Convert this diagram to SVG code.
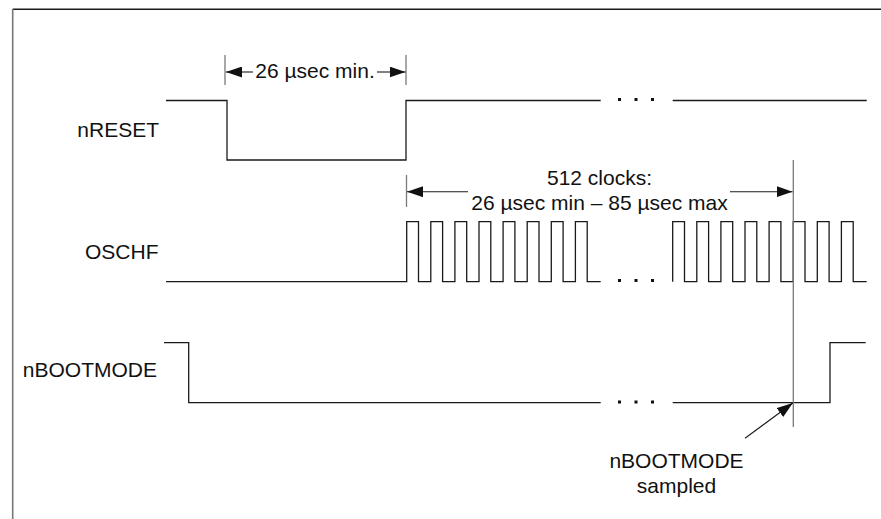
<svg xmlns="http://www.w3.org/2000/svg" width="881" height="519" viewBox="0 0 881 519">
<style>
text{font-family:"Liberation Sans",Arial,sans-serif;font-size:21px;fill:#111}
.w{fill:none;stroke:#1a1a1a;stroke-width:1.3}
.g{fill:none;stroke:#7a7a7a;stroke-width:1.3}
.a{fill:none;stroke:#1a1a1a;stroke-width:1.1}
.d{fill:#111}
</style>
<defs>
<marker id="ah" viewBox="0 0 16 11" refX="16" refY="5.5" markerWidth="16" markerHeight="11" markerUnits="userSpaceOnUse" orient="auto">
<path d="M0,0 L16,5.5 L0,11 z" fill="#111"/>
</marker>
</defs>
<rect width="881" height="519" fill="#fff"/>
<g id="frame">
<line x1="12.7" y1="9.3" x2="881" y2="9.3" stroke="#1a1a1a" stroke-width="1.6"/>
<line x1="12.7" y1="9" x2="12.7" y2="519" stroke="#777" stroke-width="1.6"/>
</g>
<g id="nRESET">
<text x="159" y="137" text-anchor="end">nRESET</text>
<path class="w" d="M166 100.5 H227 V160 H406 V100.5 H600.7"/>
<path class="w" d="M672.7 100.5 H866.7"/>
<rect class="d" x="618" y="98" width="3" height="3"/>
<rect class="d" x="634.5" y="98" width="3" height="3"/>
<rect class="d" x="651" y="98" width="3" height="3"/>
</g>
<g id="OSCHF">
<text x="158.5" y="258.5" text-anchor="end">OSCHF</text>
<path class="w" d="M166 281.7 H406.7 V221.7 H418.5 V281.7 H430.8 V221.7 H442.6 V281.7 H454.9 V221.7 H466.7 V281.7 H479 V221.7 H490.8 V281.7 H503.1 V221.7 H514.9 V281.7 H527.2 V221.7 H539 V281.7 H551.3 V221.7 H563.1 V281.7 H575.4 V221.7 H587.2 V281.7 H600.7"/>
<path class="w" d="M672.7 281.7 V221.7 H684.5 V281.7 H696.8 V221.7 H708.6 V281.7 H720.9 V221.7 H732.7 V281.7 H745 V221.7 H756.8 V281.7 H769.1 V221.7 H780.9 V281.7 H793.2 V221.7 H805 V281.7 H817.3 V221.7 H829.1 V281.7 H841.4 V221.7 H853.2 V281.7 H866.7"/>
<rect class="d" x="618" y="279" width="3" height="3"/>
<rect class="d" x="634.5" y="279" width="3" height="3"/>
<rect class="d" x="651" y="279" width="3" height="3"/>
</g>
<g id="nBOOTMODE">
<text x="157" y="377" text-anchor="end">nBOOTMODE</text>
<path class="w" d="M164 342.7 H188.7 V402.7 H600.7"/>
<path class="w" d="M672.7 402.7 H830 V342.7 H865.7"/>
<rect class="d" x="618" y="400.5" width="3" height="3"/>
<rect class="d" x="634.5" y="400.5" width="3" height="3"/>
<rect class="d" x="651" y="400.5" width="3" height="3"/>
</g>
<g id="sample-line">
<line class="g" x1="793.3" y1="160" x2="793.3" y2="427"/>
</g>
<g id="dim-26usec">
<line class="g" x1="225" y1="55" x2="225" y2="85"/>
<line class="g" x1="406" y1="55" x2="406" y2="85"/>
<text x="315" y="77.5" text-anchor="middle">26 µsec min.</text>
</g>
<g id="dim-512">
<line class="g" x1="406.5" y1="175" x2="406.5" y2="207"/>
<text x="599.5" y="185" text-anchor="middle">512 clocks:</text>
<text x="599.5" y="209.5" text-anchor="middle">26 µsec min – 85 µsec max</text>
</g>
<g id="sampled-label">
<text x="676.5" y="467.5" text-anchor="middle">nBOOTMODE</text>
<text x="676.5" y="493" text-anchor="middle">sampled</text>
</g>
<g id="connectors">
<line class="a" x1="253" y1="72" x2="226" y2="72" marker-end="url(#ah)"/>
<line class="a" x1="377" y1="72" x2="405.5" y2="72" marker-end="url(#ah)"/>
<line class="a" x1="468" y1="191.7" x2="407" y2="191.7" marker-end="url(#ah)"/>
<line class="a" x1="730" y1="191.7" x2="792.5" y2="191.7" marker-end="url(#ah)"/>
<line class="a" x1="745" y1="438.3" x2="792.8" y2="403" marker-end="url(#ah)"/>
</g>
</svg>
